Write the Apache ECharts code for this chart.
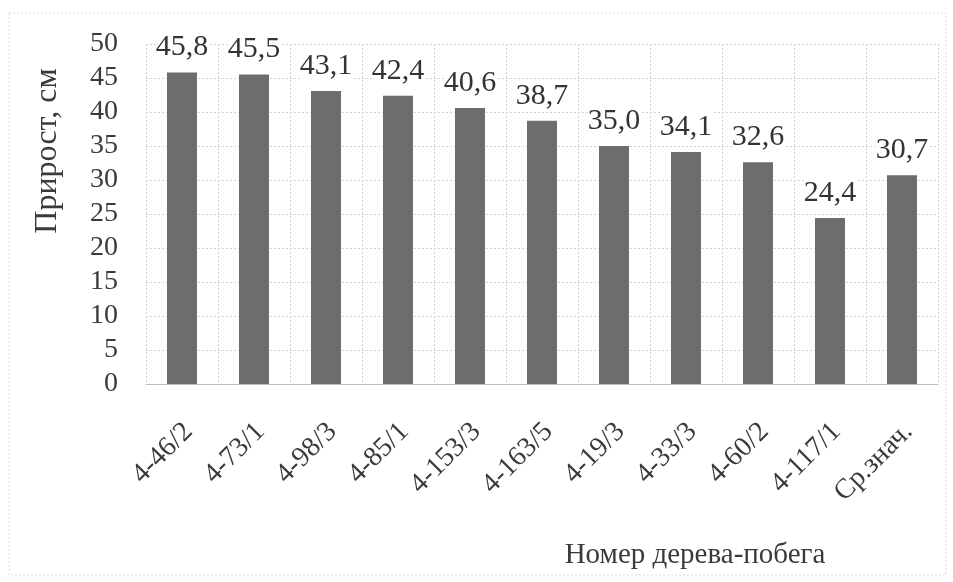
<!DOCTYPE html>
<html>
<head>
<meta charset="utf-8">
<script src="https://cdn.jsdelivr.net/npm/echarts@6/dist/echarts.min.js"></script>
<style>
  html, body { margin: 0; padding: 0; background: #fff; }
  #chart { width: 953px; height: 582px; }
</style>
</head>
<body>
<div id="chart"></div>
<script>
// номера деревьев-побегов и прирост, см
const categories = ['4-46/2', '4-73/1', '4-98/3', '4-85/1', '4-153/3', '4-163/5', '4-19/3', '4-33/3', '4-60/2', '4-117/1', 'Ср.знач.']
const growth = [45.8, 45.5, 43.1, 42.4, 40.6, 38.7, 35.0, 34.1, 32.6, 24.4, 30.7]
const yTicks = [0, 5, 10, 15, 20, 25, 30, 35, 40, 45, 50]

const font = '"Liberation Serif", "DejaVu Serif", serif'
const gridLine = { show: true, lineStyle: { color: '#d2d2d2', type: [2, 2], width: 1 } }

let chart = echarts.init(document.getElementById('chart'))

let option = {
  backgroundColor: '#fff',
  animation: false,
  textStyle: { fontFamily: font, color: '#333' },
  grid: { left: 146, top: 44, right: 15, bottom: 198, containLabel: false },
  graphic: [
    {
      type: 'rect',
      shape: { x: 9, y: 13, width: 937, height: 562 },
      style: { fill: 'none', stroke: '#dadada', lineWidth: 1, lineDash: [2, 2] }
    },
    {
      type: 'text',
      x: 48,
      y: 151,
      rotation: Math.PI / 2,
      style: {
        text: 'Прирост, см',
        font: '32px ' + font,
        fill: '#3a3a3a',
        align: 'center',
        verticalAlign: 'middle'
      }
    },
    {
      type: 'text',
      x: 695,
      y: 555,
      style: {
        text: 'Номер дерева-побега',
        font: '29px ' + font,
        fill: '#3a3a3a',
        align: 'center',
        verticalAlign: 'middle'
      }
    }
  ],
  xAxis: {
    type: 'category',
    data: categories,
    axisLine: { show: true, lineStyle: { color: '#bdbdbd' } },
    axisTick: { show: false },
    splitLine: gridLine,
    axisLabel: {
      interval: 0,
      rotate: 45,
      margin: 30,
      align: 'right',
      verticalAlign: 'top',
      padding: [0, 5, 0, 0],
      fontSize: 28,
      fontFamily: font,
      color: '#3a3a3a'
    }
  },
  yAxis: {
    type: 'value',
    min: yTicks[0],
    max: yTicks[yTicks.length - 1],
    interval: 5,
    axisLine: { show: false },
    axisTick: { show: false },
    splitLine: gridLine,
    axisLabel: {
      margin: 28,
      fontSize: 28,
      fontFamily: font,
      color: '#3a3a3a'
    }
  },
  series: [
    {
      type: 'bar',
      data: growth,
      barWidth: 30,
      itemStyle: { color: '#6d6d6d' },
      label: {
        show: true,
        position: 'top',
        distance: 10,
        fontSize: 30,
        fontFamily: font,
        color: '#333',
        backgroundColor: '#fff',
        formatter: function (p) {
          return p.value.toFixed(1).replace('.', ',')
        }
      }
    }
  ]
}

chart.setOption(option)
</script>
</body>
</html>
